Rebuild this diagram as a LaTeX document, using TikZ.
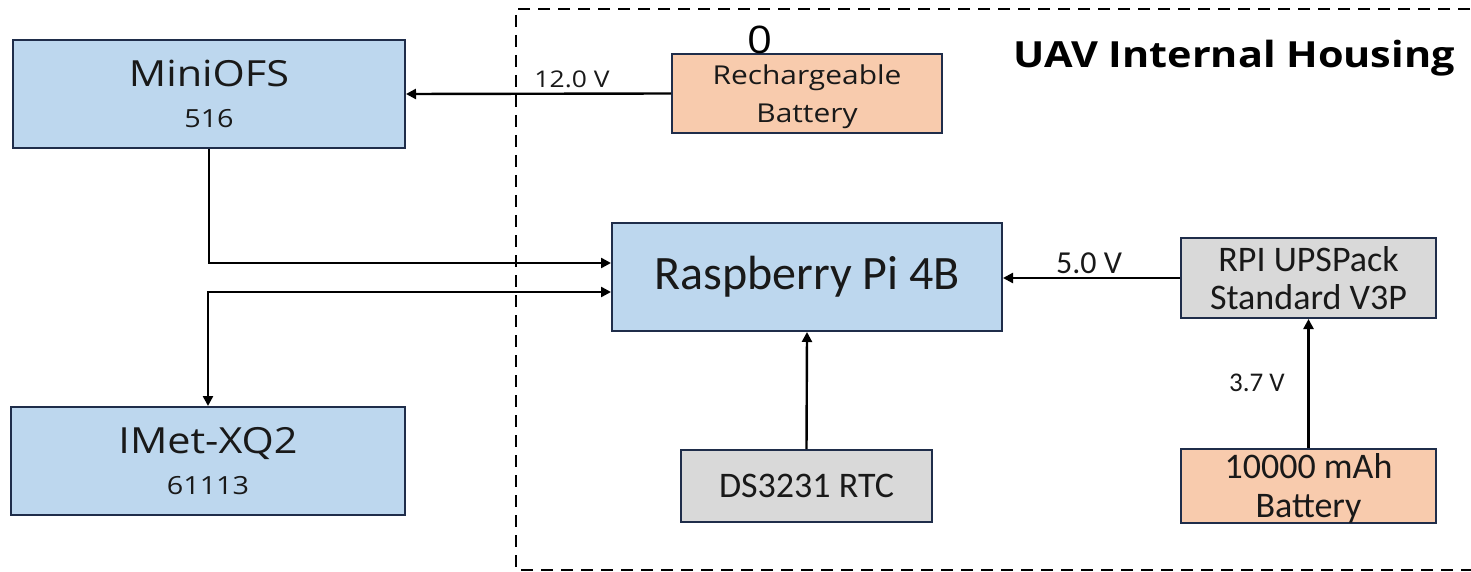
\documentclass[tikz,border=0pt]{standalone}
\usepackage{fontspec}
\setmainfont{Open Sans}[FakeStretch=1.15]
\newfontfamily\calib{Carlito}
\usetikzlibrary{arrows.meta}
\definecolor{boxblue}{HTML}{BDD7EE}
\definecolor{boxorange}{HTML}{F8CBAD}
\definecolor{boxgray}{HTML}{D9D9D9}
\definecolor{edgenavy}{HTML}{1F2D4A}
\tikzset{
  blk/.style={draw=edgenavy, line width=2pt, inner sep=0pt, align=center, text=black!90},
  bluebox/.style={blk, fill=boxblue},
  orangebox/.style={blk, fill=boxorange},
  graybox/.style={blk, fill=boxgray},
  tip/.tip={Triangle[length=10pt,width=10pt]},
  conn/.style={line width=2.4pt, -tip},
  vlabel/.style={inner sep=0pt, text=black!90},
}
\begin{document}
\begin{tikzpicture}[x=1pt,y=-1pt]
\useasboundingbox (0,0) rectangle (1471,572);
% housing
\draw[line width=2.4pt, dash pattern=on 12pt off 8pt] (1490,9) -- (516,9) -- (516,570) -- (1490,570);
\node[inner sep=0pt] (title) at (1234,58) {\fontsize{36}{40}\selectfont\bfseries UAV Internal Housing};
% boxes
\node[bluebox, minimum width=392pt, minimum height=108pt, font=\fontsize{25}{41}\selectfont] (mini) at (209,94)
  {{\fontsize{36}{41}\selectfont MiniOFS}\\516};
\node[bluebox, minimum width=394pt, minimum height=108pt, font=\fontsize{25}{41}\selectfont] (imet) at (208,461)
  {{\fontsize{36}{41}\selectfont IMet-XQ2}\\61113};
\node[orangebox, minimum width=270pt, minimum height=79pt, font=\fontsize{26}{38}\selectfont] (rech) at (807,93.5)
  {\rule{0pt}{26pt}Rechargeable\\Battery};
\node[inner sep=0pt] (zero) at (760,40) {\fontsize{38}{40}\selectfont 0};
\node[bluebox, minimum width=390pt, minimum height=108pt, font=\calib\fontsize{48}{50}\selectfont] (rpi) at (807,277)
  {Raspberry Pi 4B};
\node[graybox, minimum width=255pt, minimum height=80pt, font=\calib\fontsize{36}{38}\selectfont] (ups) at (1308.5,278)
  {RPI UPSPack\\Standard V3P};
\node[graybox, minimum width=251pt, minimum height=72pt, font=\calib\fontsize{36}{38}\selectfont] (rtc) at (806.5,486)
  {DS3231 RTC};
\node[orangebox, minimum width=255pt, minimum height=72pt, font=\calib\fontsize{36}{39}\selectfont] (batt) at (1308.5,486)
  {\rule{0pt}{29pt}10000 mAh\\Battery};
% connectors
\draw[conn] (rech.west) -- (mini.east);
\node[vlabel] (l12) at (572,79) {\fontsize{23}{24}\selectfont 12.0 V};
\draw[conn] (mini.south) |- ([yshift=14pt]rpi.west);
\draw[conn, tip-tip] (imet.north) |- ([yshift=-15pt]rpi.west);
\draw[conn] (ups.west) -- (ups.west -| rpi.east);
\node[vlabel] (l5) at (1089,263) {\calib\fontsize{32}{34}\selectfont 5.0 V};
\draw[conn] (batt.north) -- (ups.south);
\node[vlabel] (l37) at (1257,383) {\calib\fontsize{27}{28}\selectfont 3.7 V};
\draw[conn] (rtc.north) -- (rpi.south);
\end{tikzpicture}
\end{document}
